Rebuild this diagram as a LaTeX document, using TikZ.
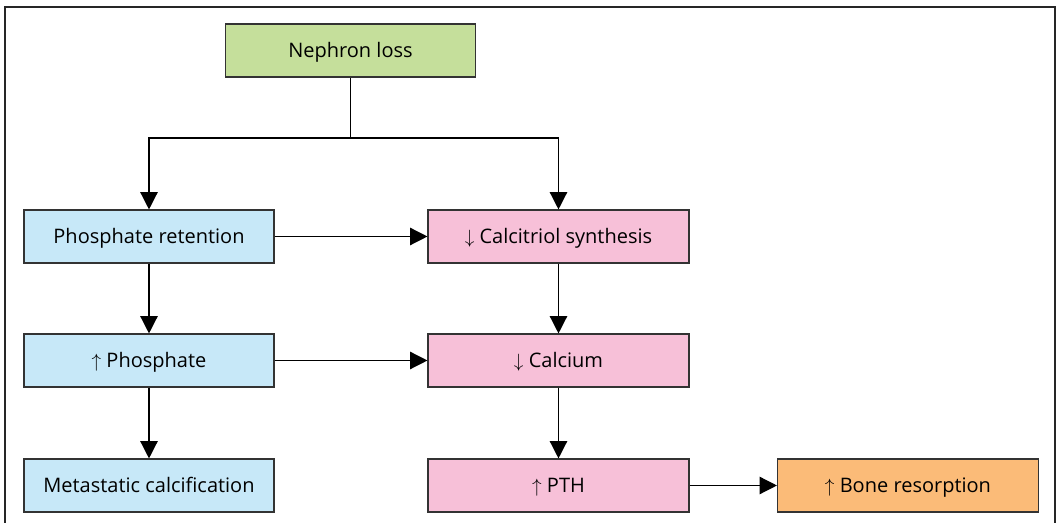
\documentclass[tikz,border=0pt]{standalone}
\usepackage{fontspec}
\setmainfont{Open Sans}
\usepackage{tikz}
\usetikzlibrary{arrows.meta}

\definecolor{lossgreen}{RGB}{197,223,155}
\definecolor{phosblue}{RGB}{199,232,248}
\definecolor{calcpink}{RGB}{247,192,216}
\definecolor{boneorange}{RGB}{251,187,120}

\begin{document}
\begin{tikzpicture}[x=0.75pt, y=-0.75pt,
				    state/.style={draw=black!80, line width=0.8pt, fill=none,
				    			  minimum width=187.5pt, minimum height=39.75pt,
				    			  text height=11.5pt, text depth=1pt,
				    			  text centered, text=black, font=\fontsize{15}{18}\selectfont},
				    wide/.style={minimum width=195.75pt},
				    arr/.style={-{Triangle[length=13pt, width=13pt]}, line width=1pt}]
	\useasboundingbox (0,0) rectangle (1058,523);
	\draw[line width=1.5pt, black!85] (5,530) -- (5,7) -- (1055,7) -- (1055,530);

	\node[state, fill=lossgreen] (u1) at (350.5, 50.5) {Nephron loss};
	\node[state, fill=phosblue] (u2) at (149, 236.5) {Phosphate retention};
	\node[state, wide, fill=calcpink] (u3) at (558.5, 236.5) {$\downarrow$ Calcitriol synthesis};
	\node[state, fill=phosblue] (u4) at (149, 360.5) {$\uparrow$ Phosphate};
	\node[state, wide, fill=calcpink] (u5) at (558.5, 360.5) {$\downarrow$ Calcium};
	\node[state, fill=phosblue] (u6) at (149, 485.5) {Metastatic calcification};
	\node[state, wide, fill=calcpink] (u7) at (558.5, 485.5) {$\uparrow$ PTH};
	\node[state, wide, fill=boneorange] (u8) at (908, 485.5) {$\uparrow$ Bone resorption};
	\coordinate (split) at (350.5, 138);

	\draw[line width=1pt] (u1) -- (split);
	\draw[arr] (split) -| (u2);
	\draw[arr] (split) -| (u3);
	\path[arr] 	(u2)  edge   (u3);
	\path[arr] 	(u2)  edge   (u4);
	\path[arr] 	(u3)  edge   (u5);
	\path[arr] 	(u4)  edge   (u5);
	\path[arr] 	(u4)  edge   (u6);
	\path[arr] 	(u5)  edge   (u7);
	\path[arr] 	(u7)  edge   (u8);

\end{tikzpicture}
\end{document}
